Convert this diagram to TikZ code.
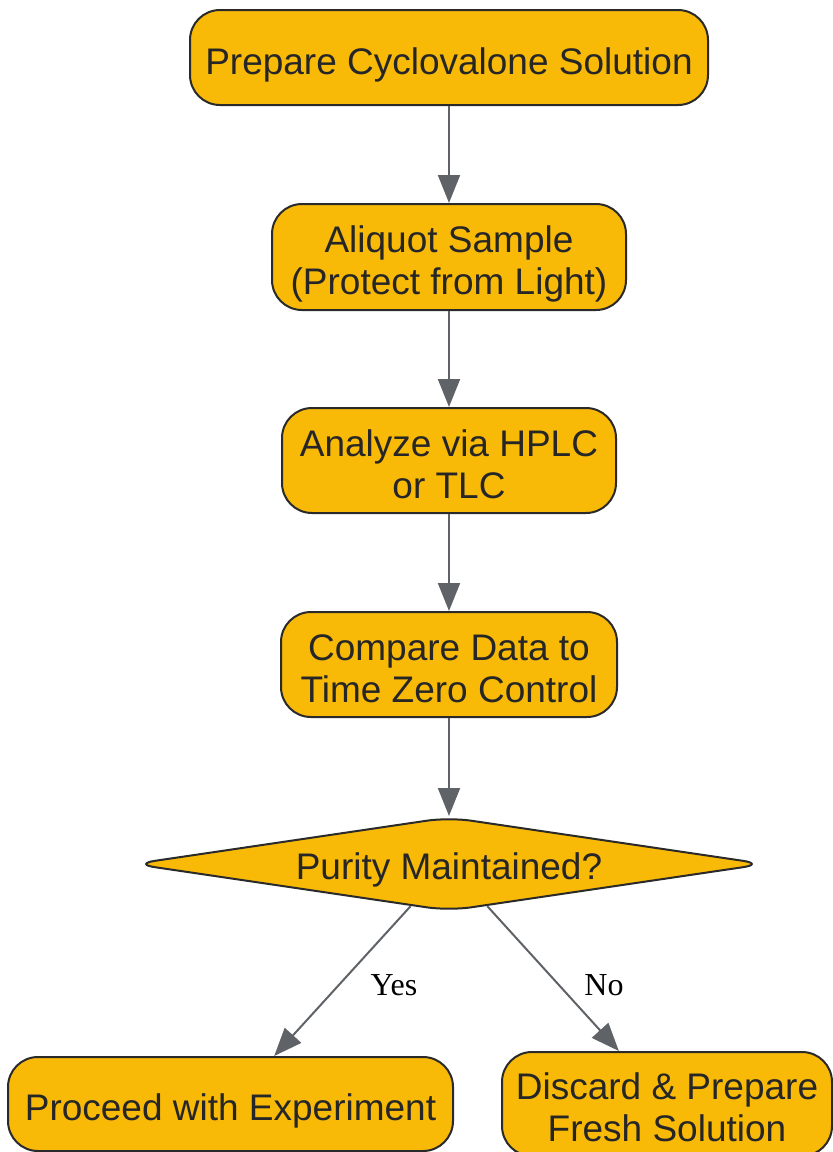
\documentclass[tikz,border=0pt]{standalone}
\usepackage{fontspec}
\setmainfont{Liberation Sans}
\newfontfamily\labelfont{Liberation Serif}
\usetikzlibrary{arrows.meta,shapes.geometric}
\definecolor{boxfill}{HTML}{F9BA07}
\definecolor{boxline}{HTML}{2A2A2A}
\definecolor{arrowgray}{HTML}{5F6368}
\definecolor{txt}{HTML}{262626}
\newcommand{\topst}{\rule{0pt}{41pt}}
\newcommand{\botst}{\rule[-8pt]{0pt}{8pt}}
\begin{document}
\begin{tikzpicture}[x=1pt,y=-1pt,
  stepbox/.style={draw=boxline, line width=2pt, fill=boxfill, rounded corners=30pt,
    text=txt, font=\fontsize{37}{42}\selectfont, align=center, inner sep=0pt},
  decision/.style={diamond, draw=boxline, line width=2pt, fill=boxfill, rounded corners=22pt,
    aspect=6.6, inner sep=0pt, minimum width=632pt, minimum height=94pt,
    text=txt, font=\fontsize{37}{42}\selectfont},
  arr/.style={draw=arrowgray, line width=2pt, -{Triangle[length=28pt,width=22pt]}},
  edgelabel/.style={font=\labelfont\fontsize{32}{36}\selectfont, text=black}]
\useasboundingbox (0,0) rectangle (833,1152);
\node[stepbox, minimum width=518pt, minimum height=95pt] (n1) at (449,57.5) {\topst\botst Prepare Cyclovalone Solution};
\node[stepbox, minimum width=354pt, minimum height=106pt] (n2) at (449,257) {\topst Aliquot Sample\\(Protect from Light)\botst};
\node[stepbox, minimum width=334pt, minimum height=105pt] (n3) at (449,460.5) {\topst Analyze via HPLC\\or TLC\botst};
\node[stepbox, minimum width=336pt, minimum height=105pt] (n4) at (449,664.5) {\topst Compare Data to\\Time Zero Control\botst};
\node[decision] (n5) at (449,864) {\raisebox{-6pt}[27pt][8pt]{Purity Maintained?}};
\node[stepbox, minimum width=445pt, minimum height=94pt] (n6) at (230.5,1104) {\topst\botst Proceed with Experiment};
\node[stepbox, minimum width=330pt, minimum height=104pt] (n7) at (667,1104) {\topst Discard \& Prepare\\Fresh Solution\botst};
\draw[arr] (n1) -- (n2);
\draw[arr] (n2) -- (n3);
\draw[arr] (n3) -- (n4);
\draw[arr] (n4) -- (n5);
\draw[arr] (n5) -- (n6);
\draw[arr] (n5) -- (n7);
\node[edgelabel] (ly) at (394,985) {Yes};
\node[edgelabel] (ln) at (604,985) {No};
\end{tikzpicture}
\end{document}
